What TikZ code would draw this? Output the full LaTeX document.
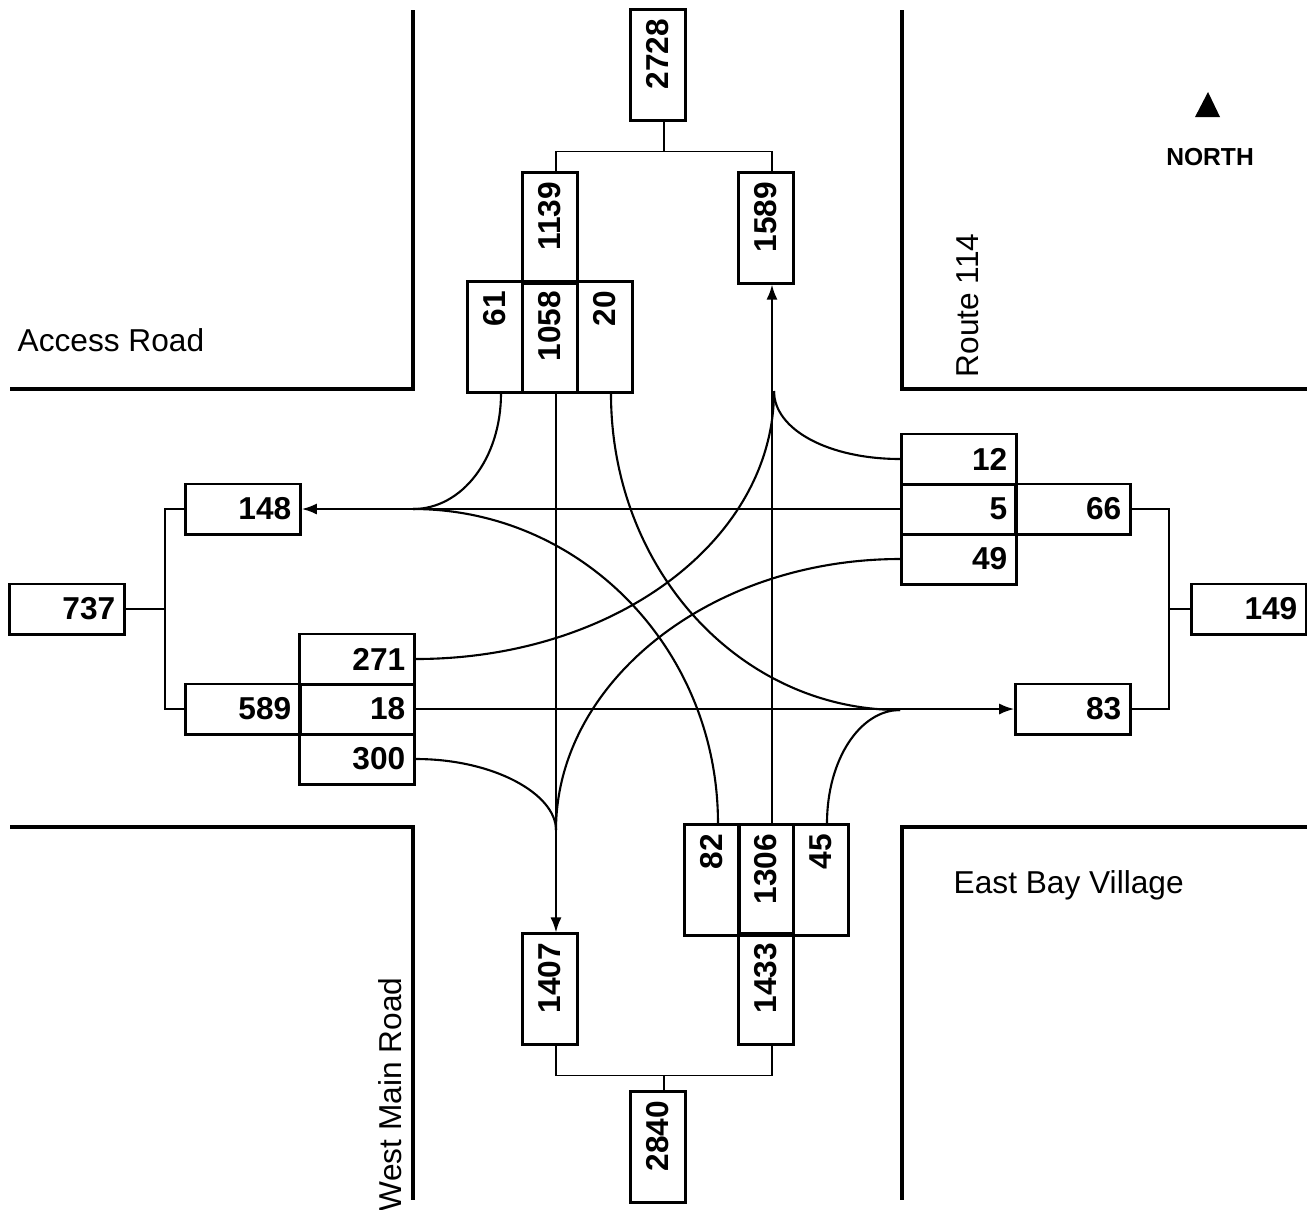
\documentclass[tikz,border=0pt]{standalone}
\usepackage{fontspec}
\setmainfont{Liberation Sans}
\usepackage{tikz}
\usetikzlibrary{arrows.meta, positioning}

\tikzset{
    hbox/.style={draw, line width=0.85pt, minimum height=0.5cm,
        text width=0.965cm, inner xsep=0.09cm, align=right,
        font=\bfseries\fontsize{9}{10}\selectfont},
    vbox/.style={hbox, rotate=90, minimum height=0.55cm, text width=0.92cm},
    road/.style={line width=1.15pt},
    flow/.style={line width=0.6pt},
    feed/.style={line width=0.5pt},
    into/.style={-{Latex[length=1.5mm,width=1.1mm]}},
    lane/.style={xshift=1.7pt},
    roadname/.style={inner sep=0pt, font=\fontsize{9}{10}\selectfont}
}

\begin{document}
\begin{tikzpicture}[x=0.01cm, y=-0.01cm]

\useasboundingbox (0,0) rectangle (1307,1209);

% road edges
\draw[road] (413,10) -- (413,389) -- (10,389);
\draw[road] (902,10) -- (902,389) -- (1307,389);
\draw[road] (10,827) -- (413,827) -- (413,1200);
\draw[road] (1307,827) -- (902,827) -- (902,1200);

\node[roadname, anchor=base west] (access) at (17,351) {Access Road};
\node[roadname, anchor=west, rotate=90] (route) at (968,378) {Route 114};
\node[roadname, anchor=base west] (village) at (953,893) {East Bay Village};
\node[roadname, anchor=east, rotate=90] (westmain) at (390,977) {West Main Road};

% north sign
\fill (1208,92) -- (1220,117) -- (1195,117) -- cycle;
\node[font=\bfseries\fontsize{7}{8}\selectfont] (north) at (1210,157) {NORTH};

% west approach
\node[hbox] (b737) at (67,609) {737};
\node[hbox] (b148) at (243,509) {148};
\node[hbox] (b589) at (243,709) {589};
\node[hbox] (b271) at (357,659) {271};
\node[hbox] (b18) at (357,709) {18};
\node[hbox] (b300) at (357,759) {300};

% east approach
\node[hbox] (b12) at (959,459) {12};
\node[hbox] (b5) at (959,509) {5};
\node[hbox] (b49) at (959,559) {49};
\node[hbox] (b66) at (1073,509) {66};
\node[hbox] (b83) at (1073,709) {83};
\node[hbox] (b149) at (1249,609) {149};

% north approach
\node[vbox] (b2728) at (658,65) {2728};
\node[vbox] (b1139) at (550,228) {1139};
\node[vbox] (b61) at (495,337) {61};
\node[vbox] (b1058) at (550,337) {1058};
\node[vbox] (b20) at (605,337) {20};
\node[vbox] (b1589) at (766,228) {1589};

% south approach
\node[vbox] (b82) at (712,880) {82};
\node[vbox] (b1306) at (766,880) {1306};
\node[vbox] (b45) at (821,880) {45};
\node[vbox] (b1433) at (766,989) {1433};
\node[vbox] (b1407) at (550,989) {1407};
\node[vbox] (b2840) at (658,1147) {2840};

% totals
\draw[feed] (b148.west) -- ++(-19,0) coordinate (wj) |- (b589.west);
\draw[feed] (b737.east) -- (b737.east -| wj);
\draw[feed] (b66.east) -- ++(37,0) coordinate (ej) |- (b83.east);
\draw[feed] (b149.west) -- (b149.west -| ej);
\draw[feed] ([lane]b1139.east) -- ++(0,-20) coordinate (nj) -| ([lane]b1589.east);
\draw[feed] ([lane]b2728.west) -- ([lane]b2728.west |- nj);
\draw[feed] ([lane]b1407.west) -- ++(0,30) coordinate (sj) -| ([lane]b1433.west);
\draw[feed] ([lane]b2840.east) -- ([lane]b2840.east |- sj);

% merge points
\coordinate (mw) at (413,509);
\coordinate (mn) at (774,391);
\coordinate (me) at (900,710);
\coordinate (ms) at (556,830);

% through movements
\draw[flow, into] (b5.west) -- (b148.east);
\draw[flow, into] (b18.east) -- (b83.west);
\draw[flow, into] ([lane]b1058.west) -- ([lane]b1407.east);
\draw[flow, into] ([lane]b1306.east) -- ([lane]b1589.west);

% turning movements
\draw[flow] ([lane]b61.west) .. controls +(0,65) and +(49,0) .. (mw);
\draw[flow] ([lane]b82.east) .. controls +(0,-175) and +(168,0) .. (mw);
\draw[flow] ([lane]b20.west) .. controls +(0,176) and +(-160,0) .. (me);
\draw[flow] ([lane]b45.east) .. controls +(0,-64) and +(-40,0) .. (me);
\draw[flow] (b271.east) .. controls +(199,0) and +(0,149) .. (mn);
\draw[flow] (b12.west) .. controls +(-71,0) and +(0,39) .. (mn);
\draw[flow] (b300.east) .. controls +(78,0) and +(0,-36) .. (ms);
\draw[flow] (b49.west) .. controls +(-191,0) and +(0,-147) .. (ms);

\end{tikzpicture}
\end{document}
